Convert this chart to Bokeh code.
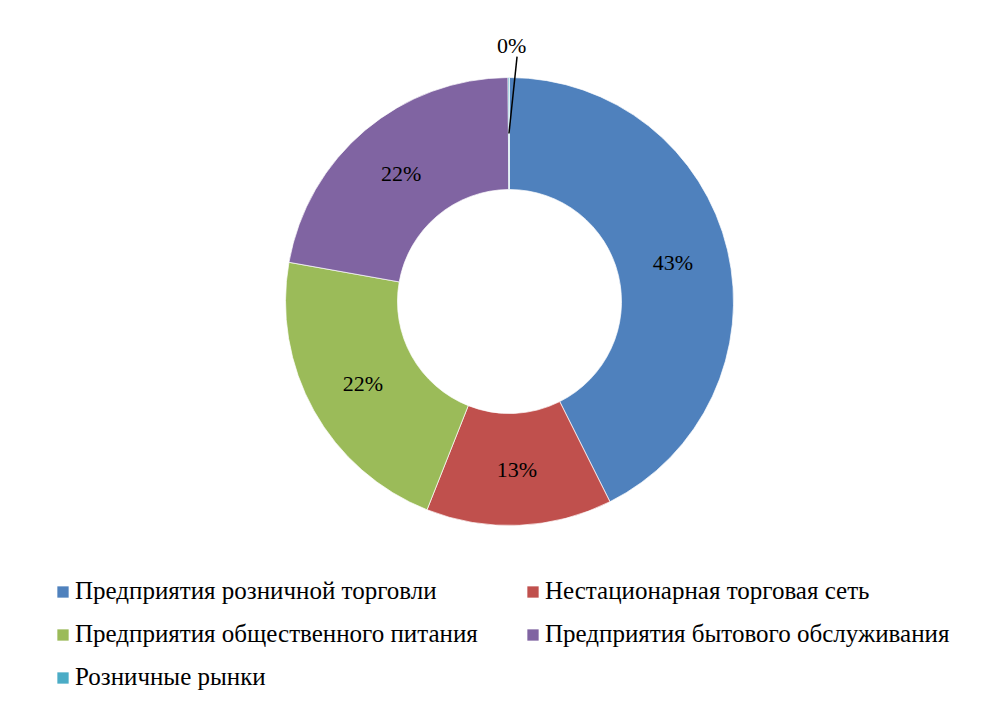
import math
from bokeh.plotting import figure
from bokeh.models import Range1d, Legend, LegendItem, ColumnDataSource
from bokeh.core.properties import value
from bokeh.embed import file_html
from bokeh.resources import INLINE

categories = [
    "Предприятия розничной торговли",
    "Нестационарная торговая сеть",
    "Предприятия общественного питания",
    "Предприятия бытового обслуживания",
    "Розничные рынки",
]
shares = [42.6, 13.4, 21.8, 22.1, 0.1]
colors = ["#4F81BD", "#C0504D", "#9BBB59", "#8064A2", "#4BACC6"]

W, H = 982, 713
CX, CY = 509, H - 301
R_OUT, R_IN = 224, 112
FONT = "'Liberation Serif', 'Times New Roman', serif"

p = figure(width=W, height=H, output_backend="svg", toolbar_location=None,
           x_range=Range1d(0, W), y_range=Range1d(0, H), min_border=0)
p.axis.visible = False
p.grid.visible = False
p.outline_line_color = None

total = sum(shares)
starts, ends, mids = [], [], []
cum = 0.0
for v in shares:
    a0 = math.pi / 2 - 2 * math.pi * cum / total
    cum += v
    a1 = math.pi / 2 - 2 * math.pi * cum / total
    starts.append(a0); ends.append(a1); mids.append((a0 + a1) / 2)

src = ColumnDataSource(dict(cat=categories, val=shares, color=colors,
                            start=starts, end=ends))
r = p.annular_wedge(x=CX, y=CY, inner_radius=R_IN, outer_radius=R_OUT,
                    start_angle="start", end_angle="end", direction="clock",
                    fill_color="color", line_color="white", line_width=0.7,
                    source=src)

# labels
R_MID = (R_IN + R_OUT) / 2
lx, ly, lt = [], [], []
for i, (v, m) in enumerate(zip(shares, mids)):
    pct = f"{round(100 * v / total)}%"
    if v / total < 0.02:
        x0, y0 = CX + R_MID * math.cos(m), CY + R_MID * math.sin(m)
        ang = m - 0.034
        x1, y1 = CX + 245 * math.cos(ang), CY + 245 * math.sin(ang)
        p.line([x0, x1], [y0, y1], line_color="black", line_width=1.5)
        lx.append(CX + 256 * math.cos(m - 0.012)); ly.append(CY + 256 * math.sin(m - 0.012)); lt.append(pct)
    else:
        lx.append(CX + R_MID * math.cos(m)); ly.append(CY + R_MID * math.sin(m)); lt.append(pct)

p.text(x=lx, y=ly, text=lt, text_font=value(FONT), text_font_size="22px",
       text_align="center", text_baseline="middle", text_color="black")

# row-major order for a 2-column legend (Bokeh fills column-first)
order = [0, 2, 4, 1, 3]
items = [LegendItem(label=categories[i], renderers=[r], index=i) for i in order]
legend = Legend(items=items, ncols=2, location=(55, 22),
                label_text_font=FONT, label_text_font_size="25px",
                label_text_color="black", glyph_width=15, glyph_height=15,
                label_standoff=5, label_height=25, label_width=435, spacing=15,
                background_fill_alpha=0, border_line_alpha=0,
                padding=0, margin=0)
p.add_layout(legend, "center")

open("out.html", "w").write(file_html(p, INLINE))
